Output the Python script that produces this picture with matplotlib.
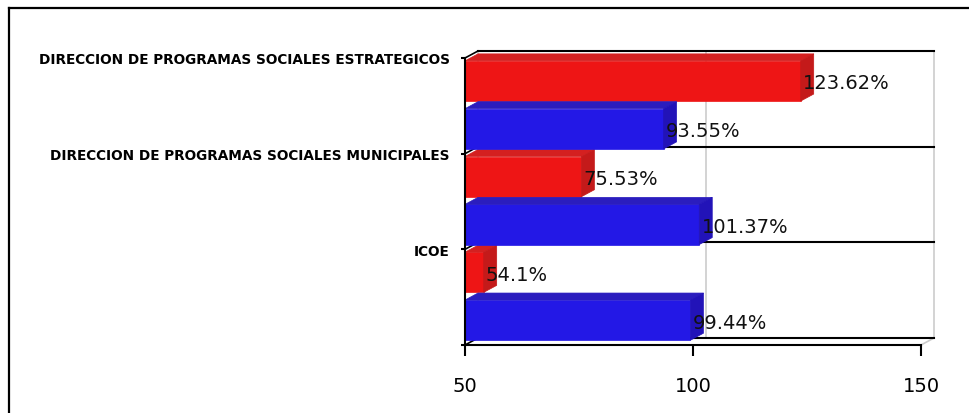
import matplotlib
matplotlib.use("Agg")
import matplotlib.pyplot as plt
from matplotlib.patches import Polygon, Rectangle
from matplotlib.lines import Line2D

categories = ["ICOE",
              "DIRECCION DE PROGRAMAS SOCIALES MUNICIPALES",
              "DIRECCION DE PROGRAMAS SOCIALES ESTRATEGICOS"]
red_vals = [54.1, 75.53, 123.62]
blue_vals = [99.44, 101.37, 93.55]
x_ticks = [50, 100, 150]

W, H = 970, 414
fig = plt.figure(figsize=(W / 100, H / 100), dpi=100)
ax = fig.add_axes([465 / W, (H - 346) / H, 456 / W, 287 / H])
ax.set_xlim(50, 150)
ax.set_ylim(0, 3)

# depth offset of the fake 3D, in data units
dx = 13 * 100 / 456
dy = 7 / (287 / 3)

# back walls / grid
for k in range(4):
    ax.plot([50 + dx, 150 + dx], [k + dy, k + dy], color="black", lw=1.5, zorder=1, clip_on=False)
    ax.plot([50, 50 + dx], [k, k + dy], color="black", lw=1.2, zorder=1, clip_on=False)
for xv in [50, 100, 150]:
    ax.plot([xv + dx, xv + dx], [dy, 3 + dy], color="#cccccc", lw=1.2, zorder=0.5, clip_on=False)
ax.plot([150, 150 + dx], [0, dy], color="#cccccc", lw=1.2, zorder=0.5, clip_on=False)

red = ("#ee1515", "#d42020", "#c41a1a")
blue = ("#2318e6", "#2b1dbe", "#2213b8")
h = 0.42


def bar3d(y0, val, cols):
    front, top, side = cols
    ax.add_patch(Rectangle((50, y0 - h / 2), val - 50, h, facecolor=front,
                           edgecolor=front, lw=0.5, zorder=3, clip_on=False))
    ax.add_patch(Polygon([(50, y0 + h / 2), (val, y0 + h / 2), (val + dx, y0 + h / 2 + dy),
                          (50 + dx, y0 + h / 2 + dy)], closed=True, facecolor=top,
                         edgecolor=top, lw=0.5, zorder=3, clip_on=False))
    ax.add_patch(Polygon([(val, y0 - h / 2), (val + dx, y0 - h / 2 + dy), (val + dx, y0 + h / 2 + dy),
                          (val, y0 + h / 2)], closed=True, facecolor=side,
                         edgecolor=side, lw=0.5, zorder=3, clip_on=False))
    ax.text(val + 0.5, y0 - 0.02, f"{val}%", fontsize=14, va="center", ha="left",
            color="#111111", zorder=5)


for i in range(3):
    bar3d(i + 0.76, red_vals[i], red)
    bar3d(i + 0.26, blue_vals[i], blue)

for s in ["top", "right"]:
    ax.spines[s].set_visible(False)
ax.spines["left"].set_linewidth(1.5)
ax.spines["bottom"].set_linewidth(1.5)
ax.spines["left"].set_zorder(4)

ax.set_xticks(x_ticks)
ax.set_xticklabels([str(v) for v in x_ticks], fontsize=14)
ax.tick_params(axis="x", length=8, width=1.5, pad=14)
ax.set_yticks([0, 1, 2, 3])
ax.set_yticklabels([""] + categories, fontsize=9.8, fontweight="bold")
ax.tick_params(axis="y", length=3, width=1.5, pad=8)
ax.set_facecolor("none")

# outer frame
fig.add_artist(Line2D([9.5 / W, 9.5 / W], [0, 1 - 9 / H], color="black", lw=1.6))
fig.add_artist(Line2D([9.5 / W, 1], [1 - 9 / H, 1 - 9 / H], color="black", lw=1.6))

fig.savefig("out.png", dpi=100)
